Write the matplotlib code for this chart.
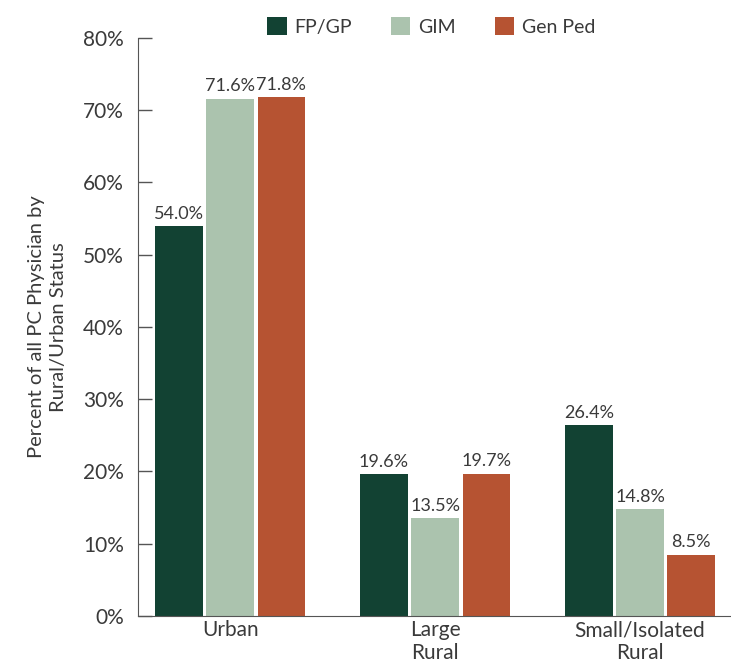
import numpy as np
import matplotlib.pyplot as plt

# data
categories = ["Urban", "Large\nRural", "Small/Isolated\nRural"]
series = ["FP/GP", "GIM", "Gen Ped"]
fp_gp = [54.0, 19.6, 26.4]
gim = [71.6, 13.5, 14.8]
gen_ped = [71.8, 19.7, 8.5]
colors = ["#124233", "#abc3ae", "#b65332"]

plt.rcParams['font.family'] = ['Lato', 'DejaVu Sans']
txt = "#3a3a3a"

fig = plt.figure(figsize=(7.31, 6.63), dpi=100)
ax = fig.add_axes([0.1888, 0.0709, 0.81, 0.8718])

x = np.arange(len(categories))
w = 0.232
pitch = 0.25
for i, (vals, name) in enumerate(zip([fp_gp, gim, gen_ped], series)):
    bars = ax.bar(x + (i - 1) * pitch, vals, width=w, color=colors[i], label=name)
    for rect, v in zip(bars, vals):
        ax.text(rect.get_x() + rect.get_width() / 2, v + 0.6, f"{v:.1f}%",
                ha="center", va="bottom", fontsize=13, color=txt)

ax.set_xlim(-0.45, 2.44)
ax.set_ylim(0, 80)
ax.set_yticks(range(0, 81, 10))
ax.set_yticklabels([f"{t}%" for t in range(0, 81, 10)])
ax.set_xticks(x)
ax.set_xticklabels(categories, linespacing=1.15)
ax.tick_params(axis="y", direction="in", length=10, width=1, colors="#555555",
               labelcolor=txt, labelsize=15, pad=10)
ax.tick_params(axis="x", length=0, labelcolor=txt, labelsize=15, pad=3)
for s in ["top", "right"]:
    ax.spines[s].set_visible(False)
for s in ["left", "bottom"]:
    ax.spines[s].set_color("#555555")

ax.set_ylabel("Percent of all PC Physician by\nRural/Urban Status", fontsize=14.5,
              color=txt, labelpad=12, linespacing=1.3)

fig.legend(loc="upper center", bbox_to_anchor=(0.59, 1.0), ncol=3, frameon=False,
           handlelength=1.0, handleheight=1.0, columnspacing=2.0, handletextpad=0.4,
           fontsize=14, labelcolor=txt)

plt.savefig("out.png", dpi=100)
